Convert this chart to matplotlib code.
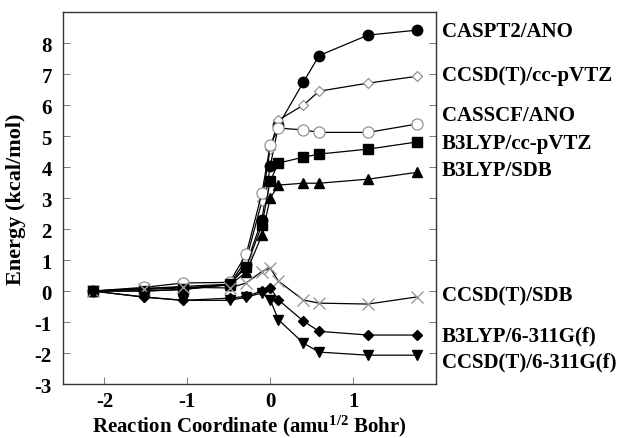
import matplotlib
matplotlib.use('Agg')
import matplotlib.pyplot as plt

plt.rcParams['font.family'] = 'Liberation Serif'
plt.rcParams['font.weight'] = 'bold'
plt.rcParams['axes.unicode_minus'] = False
plt.rcParams['mathtext.fontset'] = 'custom'
plt.rcParams['mathtext.rm'] = 'Liberation Serif:bold'
plt.rcParams['mathtext.it'] = 'Liberation Serif:bold'
plt.rcParams['mathtext.bf'] = 'Liberation Serif:bold'

# reaction coordinate points
rc = [-2.14, -1.52, -1.05, -0.49, -0.29, -0.10, 0.00, 0.10, 0.40, 0.59, 1.18, 1.77]

caspt2_ano = [0, 0.05, 0.10, 0.20, 0.85, 2.30, 4.03, 5.35, 6.74, 7.60, 8.26, 8.42]
ccsdt_ccpvtz = [0, 0.08, 0.15, 0.22, 1.00, 2.90, 4.60, 5.52, 6.00, 6.45, 6.71, 6.93]
casscf_ano = [0, 0.12, 0.26, 0.28, 1.19, 3.16, 4.71, 5.26, 5.20, 5.12, 5.12, 5.39]
b3lyp_ccpvtz = [0, 0.00, 0.05, 0.23, 0.77, 2.13, 3.55, 4.13, 4.32, 4.42, 4.58, 4.81]
b3lyp_sdb = [0, 0.00, 0.05, 0.20, 0.60, 1.80, 3.00, 3.42, 3.48, 3.48, 3.61, 3.83]
ccsdt_sdb = [0, 0.08, 0.12, 0.10, 0.26, 0.63, 0.74, 0.32, -0.29, -0.39, -0.42, -0.19]
b3lyp_6311 = [0, -0.19, -0.30, -0.23, -0.17, 0.00, 0.10, -0.29, -0.97, -1.30, -1.42, -1.42]
ccsdt_6311 = [0, -0.20, -0.30, -0.30, -0.20, -0.06, -0.29, -0.93, -1.68, -1.97, -2.07, -2.07]

labels = ['CASPT2/ANO', 'CCSD(T)/cc-pVTZ', 'CASSCF/ANO', 'B3LYP/cc-pVTZ',
          'B3LYP/SDB', 'CCSD(T)/SDB', 'B3LYP/6-311G(f)', 'CCSD(T)/6-311G(f)']
label_y = [8.39, 6.97, 5.68, 4.77, 3.90, -0.13, -1.42, -2.26]

series = [caspt2_ano, ccsdt_ccpvtz, casscf_ano, b3lyp_ccpvtz,
          b3lyp_sdb, ccsdt_sdb, b3lyp_6311, ccsdt_6311]
styles = [
    dict(marker='o', ms=7.5, mfc='black', mec='black'),
    dict(marker='D', ms=5.5, mfc='white', mec='#888888', mew=0.8),
    dict(marker='o', ms=8, mfc='white', mec='#888888', mew=0.8),
    dict(marker='s', ms=7, mfc='black', mec='black'),
    dict(marker='^', ms=7.5, mfc='black', mec='black'),
    dict(marker='x', ms=8, mfc='none', mec='#999999', mew=1.0),
    dict(marker='D', ms=5, mfc='black', mec='black'),
    dict(marker='v', ms=7.5, mfc='black', mec='black'),
]

fig = plt.figure(figsize=(6.2, 4.39), dpi=100)
ax = fig.add_axes([0.1016, 0.123, 0.6016, 0.847])

for ys, st in zip(series, styles):
    ax.plot(rc, ys, color='black', lw=0.9, **st)

ax.set_xlim(-2.5, 2.0)
ax.set_ylim(-3, 9)
ax.set_xticks([-2, -1, 0, 1])
ax.set_yticks(range(-3, 9))
ax.tick_params(direction='in', length=5, width=0.6, color='#666666',
               labelsize=15, right=True, top=False)
ax.tick_params(axis='y', pad=8)
ax.tick_params(axis='x', pad=5)
for s in ax.spines.values():
    s.set_linewidth(1.0)
    s.set_color('#333333')

ax.set_xlabel('Reaction Coordinate (amu$^{1/2}$ Bohr)', fontsize=15, fontweight='bold', labelpad=1)
ax.set_ylabel('Energy (kcal/mol)', fontsize=16, fontweight='bold', labelpad=6)

for lab, ly in zip(labels, label_y):
    ax.text(1.016, ly, lab, transform=ax.get_yaxis_transform(), fontsize=15,
            fontweight='bold', va='center', ha='left', clip_on=False)

fig.savefig('out.png', dpi=100)
